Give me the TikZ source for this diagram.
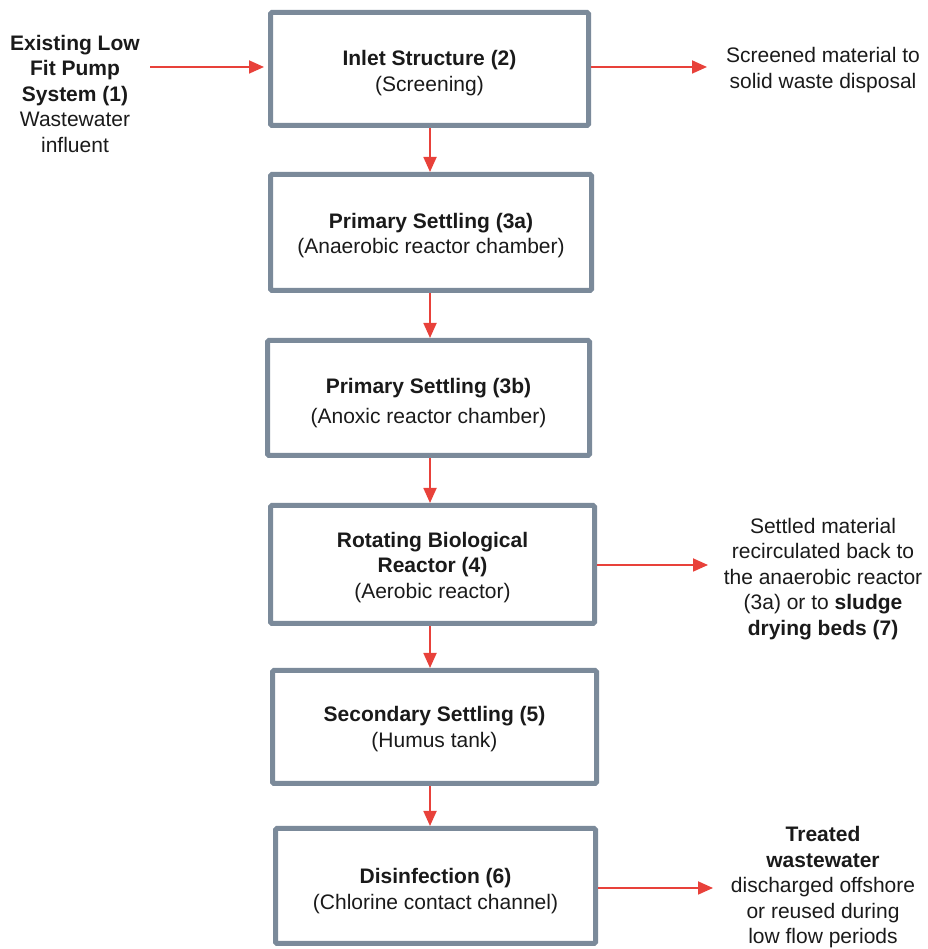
\documentclass[tikz,border=0pt]{standalone}
\usepackage{fontspec}
\setmainfont{Liberation Sans}
\usetikzlibrary{arrows.meta}
\definecolor{boxgray}{HTML}{7B8A9A}
\definecolor{arrred}{HTML}{E8413A}
\definecolor{txt}{HTML}{1A1A1A}
\begin{document}
\begin{tikzpicture}[x=1pt,y=1pt,
  every node/.style={text=txt,font=\fontsize{21}{25.5}\selectfont,align=center,inner sep=0pt},
  stage/.style={draw=boxgray,line width=5pt,fill=white,rounded corners=1.5pt},
  flow/.style={draw=arrred,line width=1.8pt,-{Triangle[length=15pt,width=13pt]}}]
\useasboundingbox (0,0) rectangle (927,949);
% boxes
\node[stage,minimum width=318,minimum height=113] (b1) at (429.5,880) {};
\node[stage,minimum width=321,minimum height=116] (b2) at (431,716.5) {};
\node[stage,minimum width=322,minimum height=115] (b3) at (428.5,551) {};
\node[stage,minimum width=324,minimum height=118] (b4) at (432.5,384.5) {};
\node[stage,minimum width=324,minimum height=113] (b5) at (434.5,222) {};
\node[stage,minimum width=320,minimum height=115] (b6) at (435.5,63) {};
% box labels
\node (l1) at ([yshift=-4pt]b1.center) {\textbf{Inlet Structure (2)}\\(Screening)};
\node (l2) at ([yshift=-3pt]b2.center) {\textbf{Primary Settling (3a)}\\(Anaerobic reactor chamber)};
\node (l3) at ([yshift=-5pt]b3.center) {\textbf{Primary Settling (3b)}\\[5pt](Anoxic reactor chamber)};
\node (l4) at ([yshift=-3pt]b4.center) {\textbf{Rotating Biological}\\\textbf{Reactor (4)}\\(Aerobic reactor)};
\node (l5) at ([yshift=-2pt]b5.center) {\textbf{Secondary Settling (5)}\\[1pt](Humus tank)};
\node (l6) at ([yshift=-5pt]b6.center) {\textbf{Disinfection (6)}\\(Chlorine contact channel)};
% side texts
\node (src) at (75,855) {\textbf{Existing Low}\\\textbf{Fit Pump}\\\textbf{System (1)}\\Wastewater\\influent};
\node (t1) at (823,879) {Screened material to\\solid waste disposal};
\node (t2) at (823,370) {Settled material\\recirculated back to\\the anaerobic reactor\\(3a) or to \textbf{sludge}\\\textbf{drying beds (7)}};
\node (t3) at (823,61.5) {\textbf{Treated}\\\textbf{wastewater}\\discharged offshore\\or reused during\\low flow periods};
% coordinates for arrow ends
\coordinate (a0) at (150,882);
\coordinate (a0e) at (264,882);
\coordinate (a1e) at (707,882);
\coordinate (a4e) at (708,384);
\coordinate (a6e) at (713,61);
% arrows
\draw[flow] (a0) -- (a0e);
\draw[flow] (b1.east |- a1e) -- (a1e);
\draw[flow] (b4.east |- a4e) -- (a4e);
\draw[flow] (b6.east |- a6e) -- (a6e);
\draw[flow] (430,0 |- b1.south) -- (430,0 |- b2.north);
\draw[flow] (430,0 |- b2.south) -- (430,0 |- b3.north);
\draw[flow] (430,0 |- b3.south) -- (430,0 |- b4.north);
\draw[flow] (430,0 |- b4.south) -- (430,0 |- b5.north);
\draw[flow] (430,0 |- b5.south) -- (430,0 |- b6.north);
\end{tikzpicture}
\end{document}
